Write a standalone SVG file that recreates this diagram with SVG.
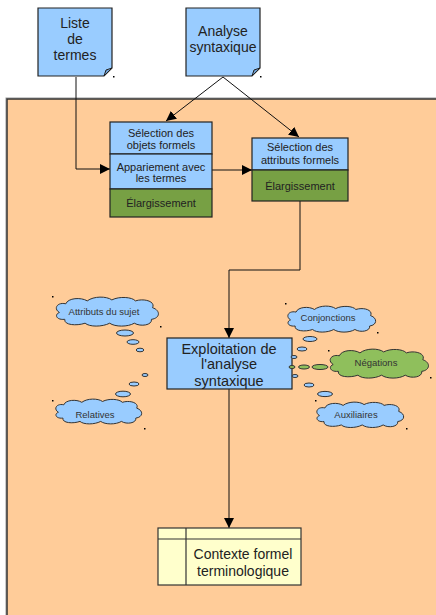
<svg xmlns="http://www.w3.org/2000/svg" width="436" height="615" viewBox="0 0 436 615">
  <style>
    .t { font-family: "Liberation Sans", Arial, sans-serif; fill: #222; text-anchor: middle; }
    .big { font-size: 14px; }
    .exp { font-size: 14.5px; }
    .mid { font-size: 11px; }
    .small { font-size: 9.5px; fill: #333; }
    .blue { fill: #99CCFF; stroke: #222; stroke-width: 1.2; }
    .green { fill: #77A044; stroke: #222; stroke-width: 1.2; }
    .lgreen { fill: #8FBF5C; stroke: #333; stroke-width: 1; }
    .cblue { fill: #99CCFF; stroke: #333; stroke-width: 1; }
    .ctx { fill: #FFFFCC; stroke: #333; stroke-width: 1.2; }
    .line { fill: none; stroke: #111; stroke-width: 1; }
    .dot { fill: #000; }
  </style>
  <defs>
    <marker id="arrow" viewBox="0 0 10 10" refX="10" refY="5" markerWidth="10" markerHeight="10" markerUnits="userSpaceOnUse" orient="auto">
      <path d="M0 0 L10 5 L0 10 Z" fill="#000"/>
    </marker>
    <!-- cloud outline in a 100 x 30 box -->
    <path id="cloud" d="M 6 16 C 0 12 4 5 12 7 C 14 1 26 0 32 4 C 38 -1 50 -1 55 3 C 62 -1 74 0 77 4 C 86 1 96 5 93 11 C 101 14 100 22 92 23 C 93 29 82 31 76 27 C 70 31 58 31 53 27 C 46 31 34 31 30 27 C 22 30 10 29 11 23 C 3 24 1 18 6 16 Z" vector-effect="non-scaling-stroke"/>
  </defs>

  <!-- working area -->
  <g id="area">
    <rect x="6" y="98" width="440" height="530" fill="none" stroke="#999" stroke-width="1"/>
    <rect x="7" y="99" width="440" height="530" fill="#FFCC99" stroke="#333" stroke-width="1.5"/>
  </g>

  <!-- source notes -->
  <g id="liste">
    <path class="blue" d="M38 8 H112 V68 L104 76 H38 Z"/>
    <path d="M104 76 L106 70 L112 68 Z" fill="#6F9FD0" stroke="#222" stroke-width="1"/>
    <text class="t big" x="75" y="28">Liste</text>
    <text class="t big" x="75" y="44">de</text>
    <text class="t big" x="75" y="60">termes</text>
    <rect class="dot" x="113" y="76" width="1.5" height="1.5"/>
  </g>
  <g id="analyse">
    <path class="blue" d="M186 8 H260 V68 L252 76 H186 Z"/>
    <path d="M252 76 L254 70 L260 68 Z" fill="#6F9FD0" stroke="#222" stroke-width="1"/>
    <text class="t big" x="223" y="36">Analyse</text>
    <text class="t big" x="223" y="52">syntaxique</text>
    <rect class="dot" x="260" y="76" width="1.5" height="1.5"/>
  </g>

  <!-- connectors -->
  <g id="connectors">
    <polyline class="line" points="76,77 76,169 110,169" marker-end="url(#arrow)"/>
    <line class="line" x1="223" y1="77" x2="166" y2="121" marker-end="url(#arrow)"/>
    <line class="line" x1="223" y1="77" x2="299" y2="137" marker-end="url(#arrow)"/>
    <line class="line" x1="212" y1="170" x2="252" y2="170" marker-end="url(#arrow)"/>
    <polyline class="line" points="300,201 300,270 229,270 229,338" marker-end="url(#arrow)"/>
    <line class="line" x1="229" y1="389" x2="229" y2="528" marker-end="url(#arrow)"/>
  </g>

  <g id="objets">
    <rect class="blue" x="110" y="122" width="102" height="32"/>
    <rect class="blue" x="110" y="154" width="102" height="35"/>
    <rect class="green" x="110" y="189" width="102" height="28"/>
    <text class="t mid" x="161" y="137">Sélection des</text>
    <text class="t mid" x="161" y="149">objets formels</text>
    <text class="t mid" x="161" y="171">Appariement avec</text>
    <text class="t mid" x="161" y="182">les termes</text>
    <text class="t mid" x="161" y="207">Élargissement</text>
  </g>

  <g id="attributs">
    <rect class="blue" x="252" y="138" width="96" height="32"/>
    <rect class="green" x="252" y="170" width="96" height="31"/>
    <text class="t mid" x="300" y="151">Sélection des</text>
    <text class="t mid" x="300" y="164">attributs formels</text>
    <text class="t mid" x="300" y="190">Élargissement</text>
  </g>

  <g id="exploitation">
    <rect class="blue" x="167" y="338" width="125" height="51"/>
    <text class="t exp" x="229" y="354">Exploitation de</text>
    <text class="t exp" x="229" y="369">l'analyse</text>
    <text class="t exp" x="229" y="386">syntaxique</text>
  </g>

  <g id="contexte">
    <rect class="ctx" x="158" y="528" width="143" height="57"/>
    <line x1="158" y1="539" x2="301" y2="539" stroke="#333" stroke-width="1.2"/>
    <line x1="186" y1="528" x2="186" y2="585" stroke="#333" stroke-width="1.2"/>
    <text class="t big" x="243" y="559">Contexte formel</text>
    <text class="t big" x="243" y="576">terminologique</text>
  </g>

  <!-- thought clouds -->
  <g id="attributs-sujet">
    <use href="#cloud" class="cblue" transform="translate(53 297) scale(1.07 0.97)"/>
    <text class="t small" x="104" y="315">Attributs du sujet</text>
    <ellipse class="cblue" cx="125" cy="333" rx="8.5" ry="3"/>
    <ellipse class="cblue" cx="133" cy="342" rx="6" ry="2.3"/>
    <ellipse class="cblue" cx="140" cy="350" rx="3.8" ry="1.8"/>
    <rect class="dot" x="52" y="296" width="1.5" height="1.5"/>
    <rect class="dot" x="160" y="326" width="1.5" height="1.5"/>
  </g>

  <g id="relatives">
    <use href="#cloud" class="cblue" transform="translate(53 399) scale(0.9 0.83)"/>
    <text class="t small" x="95" y="418">Relatives</text>
    <ellipse class="cblue" cx="145" cy="375" rx="3" ry="1.5"/>
    <ellipse class="cblue" cx="134" cy="384" rx="5" ry="2"/>
    <ellipse class="cblue" cx="123" cy="394" rx="7.5" ry="2.8"/>
    <rect class="dot" x="52" y="400" width="1.5" height="1.5"/>
    <rect class="dot" x="144" y="428" width="1.5" height="1.5"/>
  </g>

  <g id="conjonctions">
    <use href="#cloud" class="cblue" transform="translate(285 306) scale(0.92 0.87)"/>
    <text class="t small" x="328" y="321">Conjonctions</text>
    <ellipse class="cblue" cx="310" cy="339" rx="7" ry="2.5"/>
    <ellipse class="cblue" cx="302" cy="349" rx="5" ry="2"/>
    <ellipse class="cblue" cx="294" cy="357" rx="3" ry="1.5"/>
    <rect class="dot" x="285" y="303" width="1.5" height="1.5"/>
    <rect class="dot" x="377" y="332" width="1.5" height="1.5"/>
  </g>

  <g id="negations">
    <use href="#cloud" class="lgreen" transform="translate(327 349) scale(1.03 0.97)"/>
    <text class="t small" x="376" y="366">Négations</text>
    <ellipse class="lgreen" cx="292" cy="367" rx="3" ry="1.5"/>
    <ellipse class="lgreen" cx="304" cy="367" rx="5.5" ry="2"/>
    <ellipse class="lgreen" cx="320" cy="367" rx="8" ry="2.5"/>
    <rect class="dot" x="328" y="350" width="1.5" height="1.5"/>
    <rect class="dot" x="430" y="377" width="1.5" height="1.5"/>
  </g>

  <g id="auxiliaires">
    <use href="#cloud" class="cblue" transform="translate(314 402) scale(0.91 0.85)"/>
    <text class="t small" x="356" y="418">Auxiliaires</text>
    <ellipse class="cblue" cx="295" cy="376" rx="3" ry="1.5"/>
    <ellipse class="cblue" cx="309" cy="385" rx="5" ry="2"/>
    <ellipse class="cblue" cx="325" cy="394" rx="7.5" ry="2.6"/>
    <rect class="dot" x="315" y="400" width="1.5" height="1.5"/>
    <rect class="dot" x="406" y="428" width="1.5" height="1.5"/>
  </g>
</svg>
